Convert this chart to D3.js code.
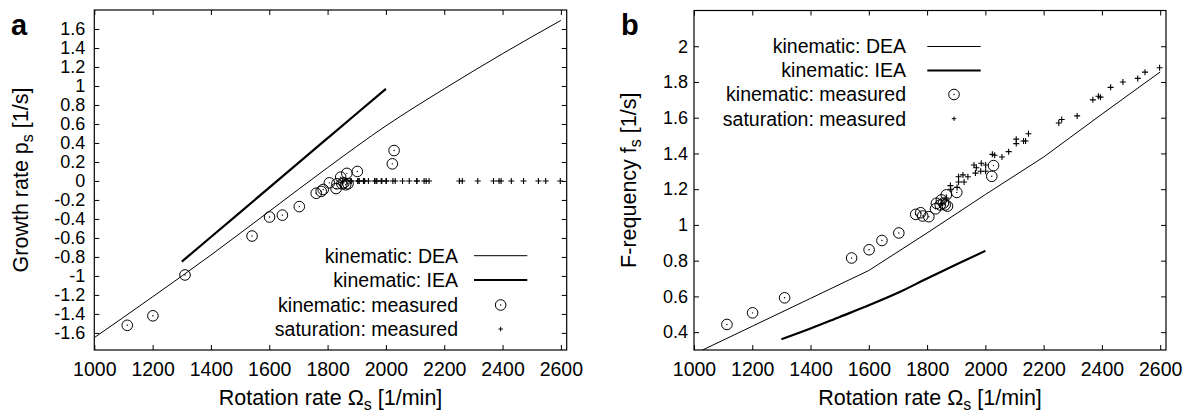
<!DOCTYPE html>
<html>
<head>
<meta charset="utf-8">
<script src="https://cdn.jsdelivr.net/npm/d3@7"></script>
<style>
  body { margin: 0; background: #fff; }
  text { font-family: "Liberation Sans", Arial, Helvetica, sans-serif; fill: #000; }
</style>
</head>
<body>
<svg id="chart" width="1196" height="419"></svg>
<script>
// Tick values
const rateTicks = [1000, 1200, 1400, 1600, 1800, 2000, 2200, 2400, 2600];
const growthTicks = [-1.6, -1.4, -1.2, -1, -0.8, -0.6, -0.4, -0.2, 0, 0.2, 0.4, 0.6, 0.8, 1, 1.2, 1.4, 1.6];
const freqTicks = [0.4, 0.6, 0.8, 1, 1.2, 1.4, 1.6, 1.8, 2];

// Kinematic measurements (rotation rate, growth rate, frequency)
const kinRate   = [1113, 1201, 1311, 1541, 1601, 1645, 1703, 1761, 1778, 1785, 1806, 1829, 1832, 1845, 1849, 1856, 1862, 1866, 1870, 1902, 2022, 2028];
const kinGrowth = [-1.52, -1.42, -0.99, -0.58, -0.38, -0.36, -0.27, -0.13, -0.11, -0.09, -0.02, -0.08, -0.03, 0.04, -0.03, -0.02, -0.04, 0.08, -0.03, 0.10, 0.18, 0.32];
const kinFreq   = [0.443, 0.508, 0.592, 0.815, 0.861, 0.913, 0.955, 1.059, 1.068, 1.050, 1.046, 1.090, 1.121, 1.112, 1.140, 1.122, 1.112, 1.168, 1.105, 1.182, 1.272, 1.332];

// Saturation measurements
const satRate   = [1852, 1866, 1880, 1881, 1903, 1908, 1908, 1923, 1927, 1940, 1961, 1966, 1969, 1984, 1986, 2001, 2001, 2024, 2032, 2057, 2080, 2106, 2106, 2131, 2138, 2148, 2252, 2262, 2315, 2369, 2388, 2395, 2430, 2472, 2523, 2548, 2598];
const satGrowth = [0, 0, 0, 0, 0, 0, 0, 0, 0, 0, 0, 0, 0, 0, 0, 0, 0, 0, 0, 0, 0, 0, 0, 0, 0, 0, 0, 0, 0, 0, 0, 0, 0, 0, 0, 0, 0];
const satFreq   = [1.12, 1.15, 1.22, 1.20, 1.21, 1.27, 1.24, 1.28, 1.24, 1.27, 1.335, 1.29, 1.32, 1.30, 1.345, 1.335, 1.30, 1.395, 1.39, 1.38, 1.41, 1.455, 1.48, 1.47, 1.47, 1.51, 1.57, 1.59, 1.61, 1.70, 1.72, 1.715, 1.77, 1.80, 1.82, 1.855, 1.88];

// Model curves: DEA and IEA
const deaRate   = [1000, 1200, 1400, 1600, 1800, 2000, 2200, 2400, 2600];
const deaGrowth = [-1.65, -1.22, -0.78, -0.32, 0.14, 0.58, 0.97, 1.34, 1.69];
const deaFreq   = [0.277, 0.433, 0.589, 0.745, 0.955, 1.17, 1.38, 1.62, 1.856];
const ieaRate   = [1300, 1400, 1500, 1600, 1700, 1800, 1900, 2000];
const ieaGrowth = [-0.85, -0.59, -0.33, -0.07, 0.19, 0.45, 0.71, 0.97];
const ieaFreq   = [0.36, 0.42, 0.485, 0.55, 0.62, 0.70, 0.778, 0.855];

const legendLabels = ["kinematic: DEA", "kinematic: IEA", "kinematic: measured", "saturation: measured"];

const svg = d3.select("#chart");
const xTickFont = 19.5;
const yTickFont = 18;
const legendFont = 19.5;
const titleFont = 21.5;

function panel(o) {
  const x = d3.scaleLinear().domain([1000, 2620]).range([o.left, o.right]);
  const y = d3.scaleLinear().domain(o.yDomain).range([o.bottom, o.top]);
  const g = svg.append("g");

  g.append("clipPath").attr("id", o.id + "-clip")
    .append("rect").attr("x", o.left).attr("y", o.top)
    .attr("width", o.right - o.left).attr("height", o.bottom - o.top);

  const fmt = v => String(Math.round(v * 10) / 10);

  const styleAxis = (sel, fs) => {
    sel.select(".domain").remove();
    sel.selectAll(".tick line").attr("stroke", "#000").attr("stroke-width", 1);
    sel.selectAll("text").attr("font-size", fs).attr("fill", "#000")
      .attr("font-family", "'Liberation Sans', Arial, sans-serif");
  };

  g.append("g").attr("transform", `translate(0,${o.bottom})`)
    .call(d3.axisBottom(x).tickValues(rateTicks).tickSize(-5).tickPadding(12).tickFormat(d3.format("d")))
    .call(styleAxis, xTickFont);
  g.append("g").attr("transform", `translate(0,${o.top})`)
    .call(d3.axisTop(x).tickValues(rateTicks).tickSize(-5).tickFormat(""))
    .call(styleAxis, xTickFont);
  g.append("g").attr("transform", `translate(${o.left},0)`)
    .call(d3.axisLeft(y).tickValues(o.yTicks).tickSize(-5).tickPadding(o.yPad).tickFormat(fmt))
    .call(styleAxis, yTickFont);
  g.append("g").attr("transform", `translate(${o.right},0)`)
    .call(d3.axisRight(y).tickValues(o.yTicks).tickSize(-5).tickFormat(""))
    .call(styleAxis, yTickFont);

  g.append("rect").attr("x", o.left).attr("y", o.top)
    .attr("width", o.right - o.left).attr("height", o.bottom - o.top)
    .attr("fill", "none").attr("stroke", "#000").attr("stroke-width", 1.2);

  const plot = g.append("g").attr("clip-path", `url(#${o.id}-clip)`);
  const deaLine = d3.line().x(d => x(d[0])).y(d => y(d[1])).curve(o.deaCurve);
  const ieaLine = d3.line().x(d => x(d[0])).y(d => y(d[1])).curve(d3.curveMonotoneX);
  plot.append("path").datum(deaRate.map((r, i) => [r, o.dea[i]]))
    .attr("d", deaLine).attr("fill", "none").attr("stroke", "#000").attr("stroke-width", 1);
  plot.append("path").datum(ieaRate.map((r, i) => [r, o.iea[i]]))
    .attr("d", ieaLine).attr("fill", "none").attr("stroke", "#000").attr("stroke-width", 2.2);

  const kin = kinRate.map((r, i) => [r, o.kin[i]]);
  const cg = plot.append("g");
  cg.selectAll("circle.ring").data(kin).join("circle").attr("class", "ring")
    .attr("cx", d => x(d[0])).attr("cy", d => y(d[1])).attr("r", 5.3)
    .attr("fill", "none").attr("stroke", "#000").attr("stroke-width", 1);
  cg.selectAll("circle.dot").data(kin).join("circle").attr("class", "dot")
    .attr("cx", d => x(d[0])).attr("cy", d => y(d[1])).attr("r", 0.7).attr("fill", "#000");

  const plus = (sel, s) => sel.attr("d", d => {
    const px = x(d[0]), py = y(d[1]);
    return `M${px - s},${py}H${px + s}M${px},${py - s}V${py + s}`;
  }).attr("stroke", "#000").attr("stroke-width", 1.1).attr("fill", "none");
  plot.append("g").selectAll("path").data(satRate.map((r, i) => [r, o.sat[i]])).join("path").call(plus, 3);

  // Legend
  const lg = g.append("g");
  legendLabels.forEach((lab, i) => {
    const ly = o.legY[i];
    lg.append("text").attr("x", o.legTextX).attr("y", ly).attr("dy", "0.35em")
      .attr("text-anchor", "end").attr("font-size", legendFont).text(lab);
  });
  lg.append("line").attr("x1", o.legX1).attr("x2", o.legX2).attr("y1", o.legY[0]).attr("y2", o.legY[0])
    .attr("stroke", "#000").attr("stroke-width", 1);
  lg.append("line").attr("x1", o.legX1).attr("x2", o.legX2).attr("y1", o.legY[1]).attr("y2", o.legY[1])
    .attr("stroke", "#000").attr("stroke-width", 2.2);
  const cx = (o.legX1 + o.legX2) / 2;
  lg.append("circle").attr("cx", cx).attr("cy", o.legY[2]).attr("r", 5.3)
    .attr("fill", "none").attr("stroke", "#000").attr("stroke-width", 1);
  lg.append("circle").attr("cx", cx).attr("cy", o.legY[2]).attr("r", 0.7).attr("fill", "#000");
  lg.append("path").attr("d", `M${cx - 2.2},${o.legY[3]}H${cx + 2.2}M${cx},${o.legY[3] - 2.2}V${o.legY[3] + 2.2}`)
    .attr("stroke", "#000").attr("stroke-width", 1);

  // Panel letter
  g.append("text").attr("x", o.letterX).attr("y", 35).attr("font-size", 29).attr("font-weight", "bold").text(o.letter);

  // Axis titles
  const xt = g.append("text").attr("x", (o.left + o.right) / 2).attr("y", 405)
    .attr("text-anchor", "middle").attr("font-size", titleFont);
  xt.append("tspan").text("Rotation rate \u03A9");
  xt.append("tspan").attr("font-size", 16).attr("dy", 5).text("s");
  xt.append("tspan").attr("dy", -5).text(" [1/min]");

  const yt = g.append("text").attr("transform", `translate(${o.yTitleX},${(o.top + o.bottom) / 2}) rotate(-90)`)
    .attr("text-anchor", "middle").attr("font-size", titleFont);
  yt.append("tspan").text(o.yTitle);
  yt.append("tspan").attr("font-size", 16).attr("dy", 5).text("s");
  yt.append("tspan").attr("dy", -5).text(" [1/s]");
}

panel({
  id: "pa", letter: "a", letterX: 11,
  left: 94.3, right: 566.7, top: 10, bottom: 350,
  yDomain: [-1.78, 1.8], yTicks: growthTicks, yPad: 9,
  dea: deaGrowth, iea: ieaGrowth, kin: kinGrowth, sat: satGrowth, deaCurve: d3.curveMonotoneX,
  legY: [255.7, 280, 305, 329], legTextX: 458, legX1: 474, legX2: 527.3,
  yTitle: "Growth rate p", yTitleX: 28
});

panel({
  id: "pb", letter: "b", letterX: 621,
  left: 694, right: 1166, top: 10.5, bottom: 350,
  yDomain: [0.3, 2.2], yTicks: freqTicks, yPad: 6,
  dea: deaFreq, iea: ieaFreq, kin: kinFreq, sat: satFreq, deaCurve: d3.curveLinear,
  legY: [46.5, 70.5, 94.5, 118.7], legTextX: 906, legX1: 927.3, legX2: 980.7,
  yTitle: "F-requency f", yTitleX: 636
});
</script>
</body>
</html>
